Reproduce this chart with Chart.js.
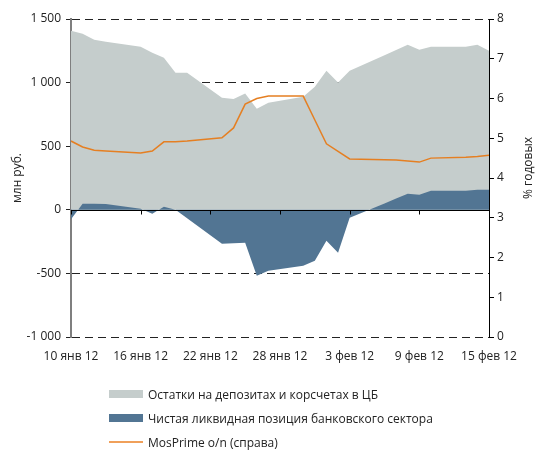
<!DOCTYPE html>
<html>
<head>
<meta charset="utf-8">
<script src="https://cdn.jsdelivr.net/npm/chart.js@4"></script>
<style>
    body { margin: 0; background: #fff; }
    #wrap { position: relative; width: 535px; height: 450px; overflow: hidden; }
    #legend { position: absolute; left: 109px; top: 382px; font: 12px 'Open Sans', sans-serif; color: #222; }
    .item { height: 24px; display: flex; align-items: center; }
    .sw { width: 34px; height: 8px; margin-right: 5px; }
    .ln { width: 34px; height: 2px; margin-right: 5px; }
</style>
</head>
<body>
<div id="wrap">
    <canvas id="chart" width="535" height="450"></canvas>
    <div id="legend"></div>
</div>
<script>
// days counted from 10 Jan 2012 (business days only)
const days = [0, 1, 2, 3, 6, 7, 8, 9, 10, 13, 14, 15, 16, 17, 20, 21, 22, 23, 24, 27, 28, 29, 30, 31, 34, 35, 36];
const deposits = [1407, 1384, 1336, 1322, 1281, 1234, 1195, 1077, 1077, 880, 872, 915, 794, 841, 888, 967, 1093, 1000, 1093, 1215, 1256, 1297, 1258, 1281, 1281, 1297, 1250];
const netPosition = [-75, 47, 47, 45, 8, -31, 24, 0, -67, -267, -262, -259, -519, -480, -440, -401, -244, -338, -63, 50, 88, 126, 118, 149, 149, 157, 157];
const mosprime = [4.93, 4.78, 4.70, 4.68, 4.63, 4.68, 4.91, 4.91, 4.93, 5.01, 5.26, 5.86, 6.00, 6.06, 6.06, 5.46, 4.86, 4.67, 4.48, 4.46, 4.45, 4.43, 4.40, 4.50, 4.52, 4.54, 4.57];
const tickLabels = ['10 янв 12', '16 янв 12', '22 янв 12', '28 янв 12', '3 фев 12', '9 фев 12', '15 фев 12'];
const seriesNames = ['Остатки на депозитах и корсчетах в ЦБ', 'Чистая ликвидная позиция банковского сектора', 'MosPrime o/n (справа)'];
const rightTitle = '% годовых';

const GRAY = '#c5cdcc';
const BLUE = '#527593';
const ORANGE = '#e57f22';
const FONT = "'Open Sans', sans-serif";

const toPoints = values => values.map((v, i) => ({ x: days[i], y: v }));

function fmt(v) {
    const s = String(Math.abs(v)).replace(/\B(?=(\d{3})+(?!\d))/g, ' ');
    return (v < 0 ? '-' : '') + s;
}

// zero line with small date ticks, drawn over the areas
const zeroLine = {
    id: 'zeroLine',
    afterDatasetsDraw(chart) {
        const { ctx, chartArea, scales } = chart;
        const y0 = Math.round(scales.y.getPixelForValue(0)) + 0.5;
        ctx.save();
        ctx.strokeStyle = '#000';
        ctx.lineWidth = 1;
        ctx.beginPath();
        ctx.moveTo(chartArea.left, y0);
        ctx.lineTo(chartArea.right, y0);
        scales.x.ticks.forEach(t => {
            const x = Math.round(scales.x.getPixelForValue(t.value)) + 0.5;
            ctx.moveTo(x, y0);
            ctx.lineTo(x, y0 + 4);
        });
        ctx.stroke();
        ctx.restore();
    }
};

// right axis title reads bottom-to-top
const rightAxisTitle = {
    id: 'rightAxisTitle',
    afterDraw(chart) {
        const { ctx, chartArea, scales } = chart;
        ctx.save();
        ctx.translate(scales.y1.right - 6, (chartArea.top + chartArea.bottom) / 2 - 10);
        ctx.rotate(-Math.PI / 2);
        ctx.font = '12px ' + FONT;
        ctx.fillStyle = '#222';
        ctx.textAlign = 'center';
        ctx.textBaseline = 'middle';
        ctx.fillText(rightTitle, 0, 0);
        ctx.restore();
    }
};

Chart.defaults.font.family = FONT;
Chart.defaults.color = '#222';

new Chart(document.getElementById('chart'), {
    type: 'line',
    data: {
        datasets: [
            {
                label: seriesNames[2],
                data: toPoints(mosprime),
                yAxisID: 'y1',
                borderColor: ORANGE,
                borderWidth: 1.5,
                pointRadius: 0,
                fill: false
            },
            {
                label: seriesNames[1],
                data: toPoints(netPosition),
                yAxisID: 'y',
                borderWidth: 0,
                pointRadius: 0,
                backgroundColor: BLUE,
                fill: 'origin'
            },
            {
                label: seriesNames[0],
                data: toPoints(deposits),
                yAxisID: 'y',
                borderWidth: 0,
                pointRadius: 0,
                backgroundColor: GRAY,
                fill: 'origin'
            }
        ]
    },
    options: {
        responsive: false,
        animation: false,
        layout: { padding: { top: 19, bottom: 83, left: 0, right: 0 } },
        plugins: { legend: { display: false }, tooltip: { enabled: false } },
        scales: {
            x: {
                type: 'linear',
                min: 0,
                max: 36,
                grid: { display: false, drawTicks: false },
                border: { display: false },
                ticks: {
                    stepSize: 6,
                    autoSkip: false,
                    maxRotation: 0,
                    padding: 12,
                    font: { size: 12 },
                    callback: v => tickLabels[v / 6]
                },
                afterFit: s => { s.height = 30; }
            },
            y: {
                position: 'left',
                min: -1000,
                max: 1500,
                grid: {
                    color: ctx => ctx.tick && ctx.tick.value === 0 ? 'rgba(0,0,0,0)' : '#222',
                    tickBorderDash: [],
                    tickColor: '#222',
                    tickLength: 5
                },
                border: { color: '#7f7f7f', width: 2, dash: [8, 5] },
                ticks: { stepSize: 500, padding: 5, font: { size: 12 }, callback: v => fmt(v) },
                title: { display: true, text: 'млн руб.', font: { size: 12 }, padding: { top: 10, bottom: 0 } },
                afterFit: s => { s.width = 71; }
            },
            y1: {
                position: 'right',
                min: 0,
                max: 8,
                grid: { drawOnChartArea: false, color: '#000', tickLength: 5 },
                border: { color: '#000', width: 1 },
                ticks: { stepSize: 1, padding: 3, font: { size: 12 } },
                afterFit: s => { s.width = 46; }
            }
        }
    },
    plugins: [zeroLine, rightAxisTitle]
});

// legend, one item per row
const legend = document.getElementById('legend');
const swatches = [
    { cls: 'sw', color: GRAY },
    { cls: 'sw', color: BLUE },
    { cls: 'ln', color: '#f0a05a' }
];
seriesNames.forEach((name, i) => {
    const row = document.createElement('div');
    row.className = 'item';
    const sw = document.createElement('span');
    sw.className = swatches[i].cls;
    sw.style.background = swatches[i].color;
    const txt = document.createElement('span');
    txt.textContent = name;
    row.appendChild(sw);
    row.appendChild(txt);
    legend.appendChild(row);
});
</script>
</body>
</html>
